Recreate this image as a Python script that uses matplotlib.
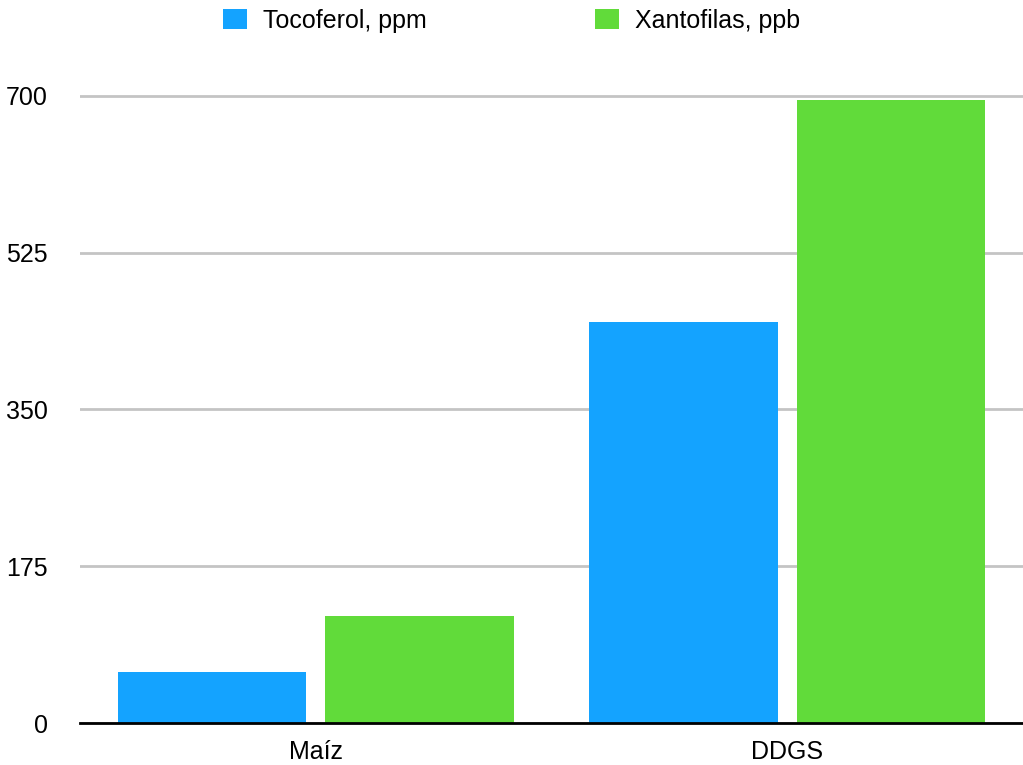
import matplotlib.pyplot as plt
import numpy as np

# data
categories = ["Maíz", "DDGS"]
tocoferol = [57, 448]      # ppm
xantofilas = [120, 696]    # ppb
series_names = ["Tocoferol, ppm", "Xantofilas, ppb"]
yticks = [0, 175, 350, 525, 700]

blue = "#14a3ff"
green = "#61db3a"

plt.rcParams['font.family'] = ['Liberation Sans', 'DejaVu Sans']

fig = plt.figure(figsize=(10.23, 7.65), dpi=100)
ax = fig.add_axes([0.0782, 0.0549, 0.9218, 0.8255])

x = np.arange(len(categories))
w = 0.40
ax.bar(x - 0.22, tocoferol, w, color=blue, label=series_names[0], zorder=3)
ax.bar(x + 0.22, xantofilas, w, color=green, label=series_names[1], zorder=3)

ax.set_xlim(-0.5, 1.5)
ax.set_ylim(0, 705)
ax.set_yticks(yticks)
ax.set_xticks(x)
ax.set_xticklabels(categories)
ax.tick_params(axis='both', length=0, labelsize=18)
ax.tick_params(axis='y', pad=23)
ax.tick_params(axis='x', pad=12)

ax.yaxis.grid(True, color="#c4c4c4", linewidth=2, zorder=0)
for s in ["top", "right", "left"]:
    ax.spines[s].set_visible(False)
ax.spines["bottom"].set_color("black")
ax.spines["bottom"].set_linewidth(2)
ax.spines["bottom"].set_zorder(4)

fig.legend(loc="upper center", bbox_to_anchor=(0.5, 1.018), ncol=2, frameon=False,
           fontsize=18, handlelength=0.96, handleheight=0.88, handletextpad=0.64,
           columnspacing=6.7)

fig.savefig("out.png", dpi=100)
